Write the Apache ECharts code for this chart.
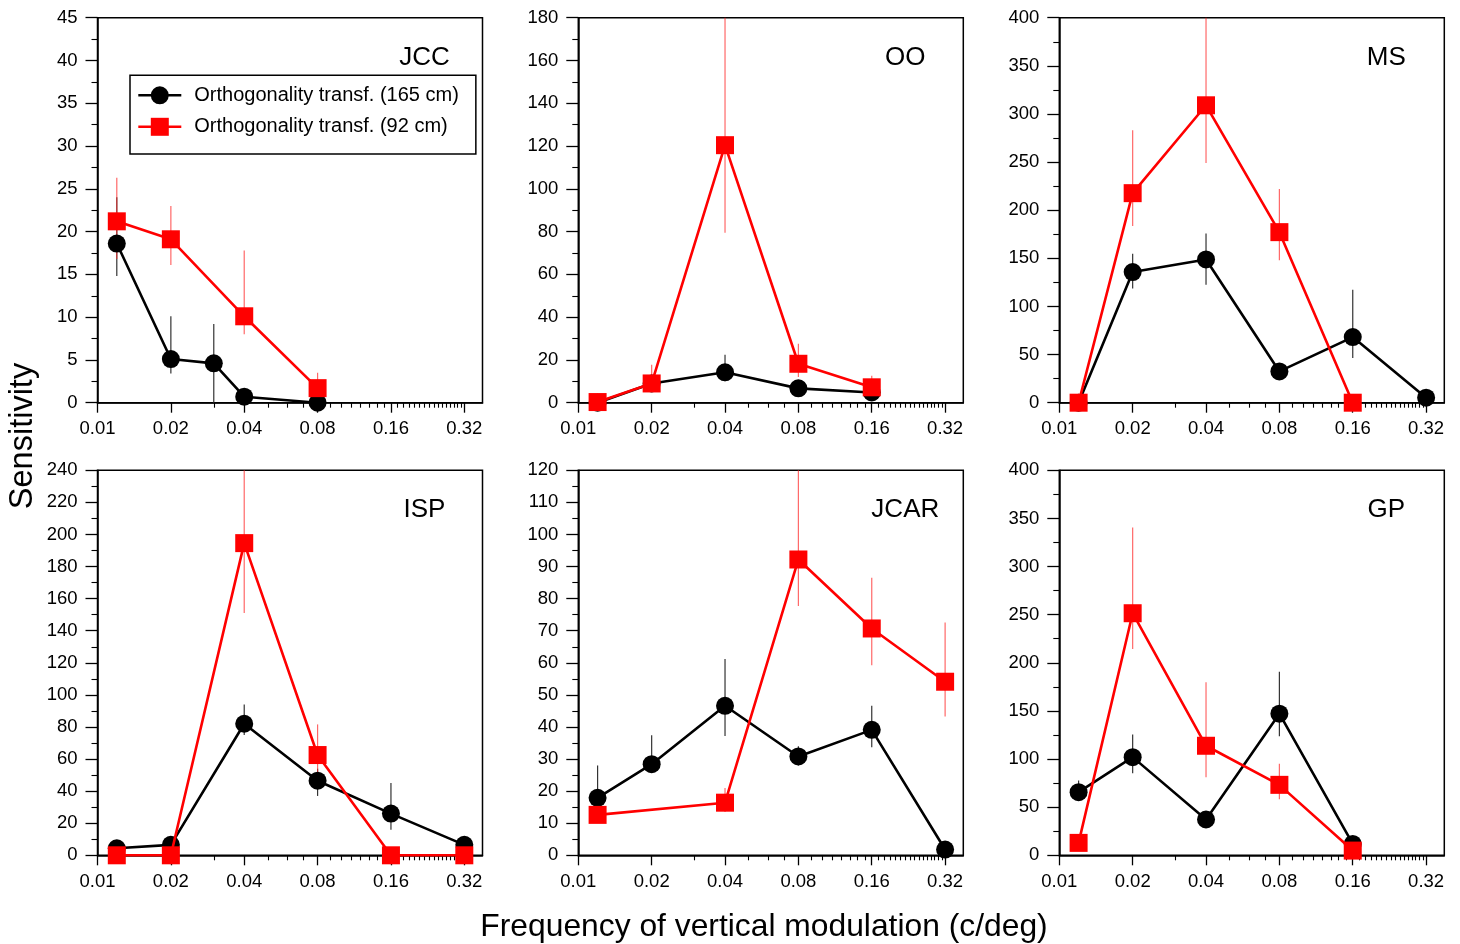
<!DOCTYPE html>
<html><head><meta charset="utf-8">
<script src="https://cdn.jsdelivr.net/npm/echarts@6/dist/echarts.min.js"></script>
<style>html,body{margin:0;padding:0;background:#fff}#c{width:1460px;height:944px}</style>
</head><body><div id="c"></div><script>
// ---------- data ----------
const xTickVals = [0.01, 0.02, 0.04, 0.08, 0.16, 0.32];
const xTickLabels = ['0.01', '0.02', '0.04', '0.08', '0.16', '0.32'];
const xMinorVals = [0.03, 0.05, 0.06, 0.07, 0.09, 0.10, 0.11, 0.12, 0.13, 0.14, 0.15,
  0.17, 0.18, 0.19, 0.20, 0.21, 0.22, 0.23, 0.24, 0.25, 0.26, 0.27, 0.28, 0.29, 0.30, 0.31];
const panelNames = ['JCC', 'OO', 'MS', 'ISP', 'JCAR', 'GP'];
const yMaxes = [45, 180, 400, 240, 120, 400];
const yIntervals = [5, 20, 50, 20, 10, 50];
const nameBlack = 'Orthogonality transf. (165 cm)';
const nameRed = 'Orthogonality transf. (92 cm)';

// JCC
const jccBlackFreq = [0.012, 0.02, 0.03, 0.04, 0.08];
const jccBlackVal  = [18.6, 5.1, 4.6, 0.7, 0];
const jccBlackLow  = [14.8, 3.4, 0, null, null];
const jccBlackHigh = [24.0, 10.1, 9.2, null, null];
const jccRedFreq = [0.012, 0.02, 0.04, 0.08];
const jccRedVal  = [21.2, 19.1, 10.1, 1.7];
const jccRedLow  = [16.8, 16.1, 8.0, 0];
const jccRedHigh = [26.3, 23.0, 17.8, 3.5];
// OO
const ooBlackFreq = [0.012, 0.02, 0.04, 0.08, 0.16];
const ooBlackVal  = [0, 9.0, 14.2, 6.7, 4.8];
const ooBlackLow  = [null, null, 10, null, null];
const ooBlackHigh = [null, null, 22.4, null, null];
const ooRedFreq = [0.012, 0.02, 0.04, 0.08, 0.16];
const ooRedVal  = [0.3, 9.0, 120.4, 18.2, 7.2];
const ooRedLow  = [null, 5, 79.5, 12, 4];
const ooRedHigh = [null, 17.7, 190, 27.6, 12.6];
// MS
const msBlackFreq = [0.012, 0.02, 0.04, 0.08, 0.16, 0.32];
const msBlackVal  = [0, 135.7, 148.8, 32.5, 68.2, 5.2];
const msBlackLow  = [null, 118.7, 122.5, null, 46.4, null];
const msBlackHigh = [null, 154.7, 175.8, null, 117.3, null];
const msRedFreq = [0.012, 0.02, 0.04, 0.08, 0.16];
const msRedVal  = [0, 217.7, 309, 177.2, 0];
const msRedLow  = [null, 183.7, 249, 148, null];
const msRedHigh = [null, 283, 420, 222, null];
// ISP
const ispBlackFreq = [0.012, 0.02, 0.04, 0.08, 0.16, 0.32];
const ispBlackVal  = [4.4, 6.5, 82, 46.5, 26, 6.5];
const ispBlackLow  = [null, null, 75, 37, 15.9, null];
const ispBlackHigh = [null, null, 94, 54, 45, null];
const ispRedFreq = [0.012, 0.02, 0.04, 0.08, 0.16, 0.32];
const ispRedVal  = [0, 0, 194.6, 62.5, 0, 0];
const ispRedLow  = [null, null, 151, 50, null, null];
const ispRedHigh = [null, null, 260, 81.6, null, null];
// JCAR
const jcarBlackFreq = [0.012, 0.02, 0.04, 0.08, 0.16, 0.32];
const jcarBlackVal  = [17.9, 28.4, 46.6, 30.8, 39.1, 1.8];
const jcarBlackLow  = [null, null, 37.2, 28, 33.7, null];
const jcarBlackHigh = [28, 37.4, 61.2, 34, 46.6, null];
const jcarRedFreq = [0.012, 0.04, 0.08, 0.16, 0.32];
const jcarRedVal  = [12.6, 16.4, 92.2, 70.7, 54.1];
const jcarRedLow  = [null, 13.5, 77.7, 59.2, 43.3];
const jcarRedHigh = [null, 21, 130, 86.5, 72.6];
// GP
const gpBlackFreq = [0.012, 0.02, 0.04, 0.08, 0.16];
const gpBlackVal  = [65.6, 102, 37.2, 147.1, 11.8];
const gpBlackLow  = [null, 85.3, null, 123.8, null];
const gpBlackHigh = [77.7, 125.6, null, 190.8, null];
const gpRedFreq = [0.012, 0.02, 0.04, 0.08, 0.16];
const gpRedVal  = [12.9, 251.5, 113.8, 73.2, 4.9];
const gpRedLow  = [null, 214.4, 81.2, 58.3, null];
const gpRedHigh = [null, 340.7, 179.7, 95.1, null];

const panelData = [
  [[jccBlackFreq, jccBlackVal, jccBlackLow, jccBlackHigh], [jccRedFreq, jccRedVal, jccRedLow, jccRedHigh]],
  [[ooBlackFreq, ooBlackVal, ooBlackLow, ooBlackHigh], [ooRedFreq, ooRedVal, ooRedLow, ooRedHigh]],
  [[msBlackFreq, msBlackVal, msBlackLow, msBlackHigh], [msRedFreq, msRedVal, msRedLow, msRedHigh]],
  [[ispBlackFreq, ispBlackVal, ispBlackLow, ispBlackHigh], [ispRedFreq, ispRedVal, ispRedLow, ispRedHigh]],
  [[jcarBlackFreq, jcarBlackVal, jcarBlackLow, jcarBlackHigh], [jcarRedFreq, jcarRedVal, jcarRedLow, jcarRedHigh]],
  [[gpBlackFreq, gpBlackVal, gpBlackLow, gpBlackHigh], [gpRedFreq, gpRedVal, gpRedLow, gpRedHigh]]
];

// ---------- layout / style ----------
const FONT = "'Liberation Sans', Arial, Helvetica, sans-serif";
const xBase = 0.01, xMaxFreq = 0.38;
const lx = f => Math.log2(f / xBase);
const gridLefts = [97.5, 578.3, 1059.3];
const gridTops = [17.7, 470.3];
const gridW = 385, gridH = 385;
const BLACK = '#000000', RED = '#ff0000';
const ERR_BLACK = '#333333', ERR_RED = 'rgba(255,40,40,0.7)';

const grids = [], xAxes = [], yAxes = [], series = [], graphics = [];

function errRender(color) {
  return function (params, api) {
    const x = api.value(0), lo = api.value(1), hi = api.value(2);
    const p1 = api.coord([x, lo]), p2 = api.coord([x, hi]);
    const cs = params.coordSys;
    const top = cs.y, bot = cs.y + cs.height;
    return {
      type: 'line',
      shape: { x1: p1[0], y1: Math.min(bot, p1[1]), x2: p2[0], y2: Math.max(top, p2[1]) },
      style: { stroke: color, lineWidth: 1.2 }
    };
  };
}

panelNames.forEach((pname, i) => {
  const col = i % 3, row = Math.floor(i / 3);
  grids.push({ left: gridLefts[col], top: gridTops[row], width: gridW, height: gridH,
    show: true, borderColor: '#000', borderWidth: 1.5, backgroundColor: 'transparent' });
  xAxes.push({
    gridIndex: i, type: 'value', min: 0, max: lx(xMaxFreq), position: 'bottom',
    axisLine: { show: true, onZero: false, lineStyle: { color: '#000', width: 1.5 } },
    axisTick: { show: true, customValues: xTickVals.map(lx), length: 10, lineStyle: { color: '#000', width: 1.3 } },
    axisLabel: { show: true, customValues: xTickVals.map(lx), margin: 17, fontSize: 18.5, color: '#000', fontFamily: FONT,
      formatter: v => { const k = xTickVals.findIndex(t => Math.abs(lx(t) - v) < 1e-6); return k >= 0 ? xTickLabels[k] : ''; } },
    splitLine: { show: false }
  });
  xAxes.push({
    gridIndex: i, type: 'value', min: 0, max: lx(xMaxFreq), position: 'bottom',
    axisLine: { show: false, onZero: false },
    axisTick: { show: true, customValues: xMinorVals.map(lx), length: 5, lineStyle: { color: '#000', width: 1.1 } },
    axisLabel: { show: false }, splitLine: { show: false }
  });
  yAxes.push({
    gridIndex: i, type: 'value', min: 0, max: yMaxes[i], interval: yIntervals[i],
    axisLine: { show: true, lineStyle: { color: '#000', width: 1.5 } },
    axisTick: { show: true, length: 12, lineStyle: { color: '#000', width: 1.3 } },
    minorTick: { show: true, splitNumber: 2, length: 6, lineStyle: { color: '#000', width: 1.1 } },
    axisLabel: { margin: 20, fontSize: 18.5, color: '#000', fontFamily: FONT },
    splitLine: { show: false }, minorSplitLine: { show: false }
  });

  const [blk, red] = panelData[i];
  [[blk, BLACK, ERR_BLACK, nameBlack, 'circle', 3], [red, RED, ERR_RED, nameRed, 'rect', 4]].forEach(([d, c, ec, nm, sym, z]) => {
    const [fr, va, lo, hi] = d;
    const errRows = [];
    fr.forEach((f, k) => {
      if (lo[k] === null && hi[k] === null) return;
      errRows.push([lx(f), lo[k] === null ? va[k] : lo[k], hi[k] === null ? va[k] : hi[k]]);
    });
    series.push({
      type: 'custom', xAxisIndex: 2 * i, yAxisIndex: i, data: errRows, silent: true, z: 1,
      encode: { x: 0, y: [1, 2] }, renderItem: errRender(ec)
    });
    series.push({
      type: 'line', name: nm, xAxisIndex: 2 * i, yAxisIndex: i, z: z, clip: false,
      data: fr.map((f, k) => [lx(f), va[k]]),
      symbol: sym, symbolSize: 18, showSymbol: true,
      lineStyle: { color: c, width: 2.6 }, itemStyle: { color: c, borderWidth: 0 },
      emphasis: { disabled: true }, animation: false
    });
  });

  graphics.push({ type: 'text', x: gridLefts[col] + 327, y: row === 0 ? 58 : 510,
    style: { text: pname, font: `26px ${FONT}`, fill: '#000', align: 'center', verticalAlign: 'middle' } });
});

graphics.push({ type: 'text', x: 23.5, y: 436, rotation: Math.PI / 2,
  style: { text: 'Sensitivity', font: `32.5px ${FONT}`, fill: '#000', align: 'center', verticalAlign: 'middle' } });
graphics.push({ type: 'text', x: 764, y: 927,
  style: { text: 'Frequency of vertical modulation (c/deg)', font: `31.8px ${FONT}`, fill: '#000', align: 'center', verticalAlign: 'middle' } });

const option = {
  animation: false,
  backgroundColor: '#fff',
  grid: grids, xAxis: xAxes, yAxis: yAxes, series: series,
  legend: {
    data: [nameBlack, nameRed], orient: 'vertical', left: 130, top: 75.3,
    itemWidth: 43, itemHeight: 22.5, itemGap: 11.5, padding: [10, 17, 17.2, 7],
    borderColor: '#000', borderWidth: 1.5, backgroundColor: '#fff', selectedMode: false,
    lineStyle: { width: 2.6 },
    textStyle: { fontSize: 20, fontFamily: FONT, color: '#000', padding: [0, 0, 0, 8] }
  },
  graphic: graphics
};
const chart = echarts.init(document.getElementById('c'), null, { renderer: 'canvas' });
chart.setOption(option);
</script></body></html>
